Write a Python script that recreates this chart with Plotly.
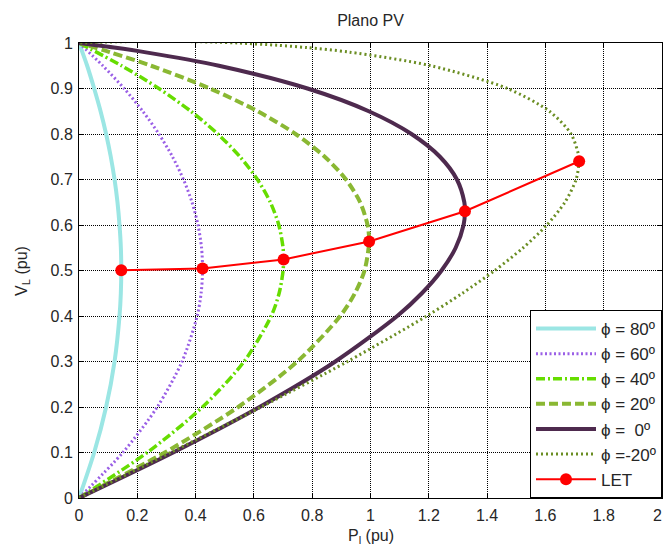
import plotly.graph_objects as go

# ---- data (P in pu, V in pu) ----
v_80 = [0, 0.1, 0.2, 0.3, 0.4, 0.45, 0.5, 0.55, 0.6, 0.65, 0.7, 0.75, 0.8, 0.85, 0.9, 0.95, 1.0]
p_80 = [0, 0.052, 0.093, 0.122, 0.139, 0.1435, 0.145, 0.1436, 0.139, 0.132, 0.122, 0.109, 0.093, 0.074, 0.052, 0.028, 0]

v_60 = [0, 0.1, 0.2, 0.3, 0.4, 0.45, 0.5, 0.55, 0.6, 0.65, 0.7, 0.75, 0.8, 0.85, 0.9, 0.95, 1.0]
p_60 = [0, 0.1505, 0.2685, 0.3536, 0.4055, 0.4189, 0.4239, 0.4204, 0.4083, 0.3877, 0.3585, 0.3207, 0.2741, 0.2188, 0.1548, 0.0818, 0]

v_40 = [0, 0.1, 0.2, 0.3, 0.4, 0.45, 0.5, 0.524, 0.55, 0.6, 0.65, 0.7, 0.75, 0.8, 0.85, 0.9, 0.95, 1.0]
p_40 = [0, 0.2340, 0.4237, 0.5664, 0.6595, 0.6866, 0.7002, 0.7018, 0.7000, 0.6855, 0.6563, 0.6121, 0.5523, 0.4763, 0.3838, 0.2740, 0.1463, 0]

v_20 = [0, 0.1, 0.2, 0.3, 0.4, 0.45, 0.5, 0.5637, 0.6, 0.65, 0.7, 0.75, 0.8, 0.85, 0.9, 0.95, 0.98, 1.0]
p_20 = [0, 0.2942, 0.5461, 0.7492, 0.8963, 0.9465, 0.9796, 0.9953, 0.9899, 0.9643, 0.9160, 0.8430, 0.7429, 0.6129, 0.4494, 0.2473, 0.1049, 0]

v_0 = [0, 0.1, 0.2, 0.3, 0.4, 0.45, 0.5, 0.55, 0.6, 0.6302, 0.65, 0.7, 0.75, 0.8, 0.85, 0.9, 0.95, 0.98, 0.99, 1.0]
p_0 = [0, 0.3231, 0.6196, 0.8795, 1.0918, 1.1762, 1.2437, 1.2922, 1.3193, 1.3240, 1.3219, 1.2964, 1.2381, 1.1405, 0.9942, 0.7839, 0.4800, 0.2246, 0.1197, 0]

v_m20 = [0, 0.1, 0.2, 0.3, 0.4, 0.45, 0.5, 0.55, 0.6, 0.65, 0.7, 0.74, 0.75, 0.8, 0.85, 0.9, 0.95, 0.98, 0.99, 0.995, 1.0, 1.002, 1.0038, 1.002, 1.0]
p_m20 = [0, 0.3144, 0.6248, 0.9213, 1.1929, 1.3153, 1.4263, 1.5238, 1.6050, 1.6669, 1.7054, 1.7158, 1.7151, 1.6884, 1.6137, 1.4698, 1.2078, 0.9271, 0.7806, 0.6827, 0.5463, 0.4633, 0.2752, 0.0851, 0]

let_p = [0.145, 0.4238, 0.7018, 0.9953, 1.3240, 1.7158]
let_v = [0.5005, 0.5043, 0.5243, 0.5637, 0.6302, 0.7401]

x_ticks = [0, 0.2, 0.4, 0.6, 0.8, 1, 1.2, 1.4, 1.6, 1.8, 2]
x_tick_labels = ["0", "0.2", "0.4", "0.6", "0.8", "1", "1.2", "1.4", "1.6", "1.8", "2"]
y_ticks = [0, 0.1, 0.2, 0.3, 0.4, 0.5, 0.6, 0.7, 0.8, 0.9, 1]
y_tick_labels = ["0", "0.1", "0.2", "0.3", "0.4", "0.5", "0.6", "0.7", "0.8", "0.9", "1"]

NB = "\u00a0"
series = [
    ("\u03d5 = 80\u00ba", p_80, v_80, "#9be6e4", 4, "solid"),
    ("\u03d5 = 60\u00ba", p_60, v_60, "#9a5fe6", 3, "2px,2.5px"),
    ("\u03d5 = 40\u00ba", p_40, v_40, "#66dd00", 3.5, "9px,3px,2px,3px"),
    ("\u03d5 = 20\u00ba", p_20, v_20, "#8ab833", 4, "9px,4px"),
    ("\u03d5 =" + NB + NB + "0\u00ba", p_0, v_0, "#4e2a4e", 4, "solid"),
    ("\u03d5 =-20\u00ba", p_m20, v_m20, "#6b8e23", 3, "2px,3px"),
]

fig = go.Figure()
for i, (name, px, py, col, w, dash) in enumerate(series):
    fig.add_trace(go.Scatter(
        x=px, y=py, mode="lines", name=name, legendgroup=f"g{i}",
        line=dict(color=col, width=w, dash=dash, shape="spline", smoothing=0.8),
    ))
fig.add_trace(go.Scatter(
    x=let_p, y=let_v, mode="lines+markers", name="LET", legendgroup="g7",
    line=dict(color="#ff0000", width=2),
    marker=dict(color="#ff0000", size=12),
))

font_family = "Liberation Sans, Arial, sans-serif"
txt = "#262626"
axis_common = dict(
    showline=True, linecolor="black", linewidth=1, mirror="ticks",
    ticks="inside", ticklen=5, tickcolor="black",
    showgrid=True, gridcolor="black", gridwidth=1, griddash="1px,1px",
    zeroline=False, tickfont=dict(size=16, color=txt, family=font_family),
    ticklabeloverflow="allow",
)
# the last x label ("2") sits at the right edge of the page; it is drawn as an
# annotation anchored on its right side so it stays fully visible
x_text_shown = x_tick_labels[:-1] + [""]
fig.update_xaxes(range=[0, 2], tickvals=x_ticks, ticktext=x_text_shown,
                 ticklabelstandoff=3, **axis_common)
fig.update_yaxes(range=[0, 1], tickvals=y_ticks, ticktext=y_tick_labels,
                 ticklabelstandoff=2, **axis_common)

fig.update_layout(
    width=664, height=550,
    margin=dict(l=79, r=2, t=43, b=52, autoexpand=False),
    paper_bgcolor="white", plot_bgcolor="white",
    font=dict(family=font_family, color=txt),
    title=dict(text="Plano PV", x=0.5, xref="paper", y=1 - 20 / 550, yref="container",
               yanchor="middle", xanchor="center", font=dict(size=16, color=txt)),
    legend=dict(x=1, y=0, xanchor="right", yanchor="bottom",
                bgcolor="white", bordercolor="black", borderwidth=1,
                font=dict(size=17, color=txt), tracegroupgap=0, itemwidth=60),
    showlegend=True,
    annotations=[
        dict(text="V<sub>L</sub> (pu)", xref="paper", yref="paper",
             x=(22 - 78.6) / 583.2, y=0.5, xanchor="center", yanchor="middle",
             textangle=-90, showarrow=False, font=dict(size=16, color=txt)),
        dict(text="P<sub>l</sub> (pu)", xref="paper", yref="paper",
             x=0.5, y=-(537 - 498.5) / 455, xanchor="center", yanchor="middle",
             showarrow=False, font=dict(size=16, color=txt)),
        dict(text=x_tick_labels[-1], xref="x", yref="paper",
             x=x_ticks[-1], xshift=2, y=-(516 - 498.5) / 455, xanchor="right", yanchor="middle",
             showarrow=False, font=dict(size=16, color=txt)),
    ],
)

fig.write_html("out.html", config={"displayModeBar": False},
               post_script="document.body.style.margin='0';document.body.style.padding='0';")
